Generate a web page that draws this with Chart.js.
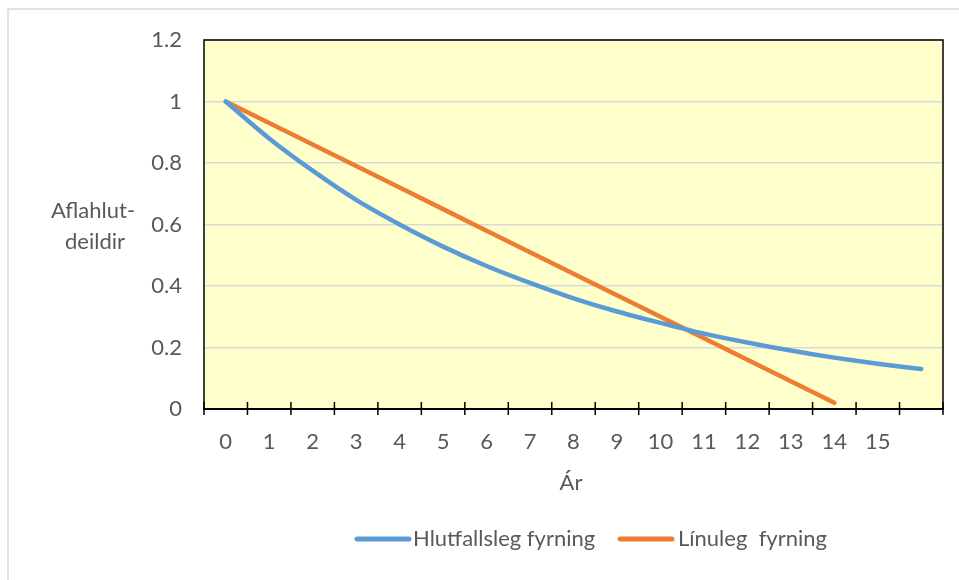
<!DOCTYPE html>
<html>
<head>
<meta charset="utf-8">
<script src="https://cdn.jsdelivr.net/npm/chart.js@4/dist/chart.umd.min.js"></script>
<style>
  html, body { margin: 0; padding: 0; background: #fff; }
  #wrap { width: 959px; height: 580px; position: relative; }
</style>
</head>
<body>
<div id="wrap"><canvas id="c" width="959" height="580"></canvas></div>
<script>
// Years (last category has no label)
const years = ['0','1','2','3','4','5','6','7','8','9','10','11','12','13','14','15',''];
// Declining-balance depreciation
const hlutfallsleg = [1, 0.88, 0.775, 0.68, 0.6, 0.528, 0.465, 0.41, 0.36, 0.317, 0.28, 0.245, 0.216, 0.19, 0.167, 0.147, 0.13];
// Straight-line depreciation
const linuleg = [1, 0.93, 0.86, 0.79, 0.72, 0.65, 0.58, 0.51, 0.44, 0.37, 0.30, 0.23, 0.16, 0.09, 0.02, null, null];
const yTicks = [0, 0.2, 0.4, 0.6, 0.8, 1, 1.2];

const seriesNames = ['Hlutfallsleg fyrning', 'Línuleg  fyrning'];
const xTitle = 'Ár';
const yTitle = ['Aflahlut-', 'deildir'];

const FONT = 'Lato, "Open Sans", sans-serif';
const FSIZE = 22;
const TEXT = '#595959';
const PLOT_BG = '#FFFFCC';

const decor = {
  id: 'decor',
  beforeDraw(chart) {
    const { ctx, chartArea: a } = chart;
    ctx.save();
    ctx.fillStyle = '#fff';
    ctx.fillRect(0, 0, chart.width, chart.height);
    // outer frame
    ctx.strokeStyle = '#d9d9d9';
    ctx.lineWidth = 1.5;
    ctx.strokeRect(8, 9, chart.width + 20, chart.height + 20);
    // plot background
    ctx.fillStyle = PLOT_BG;
    ctx.fillRect(a.left, a.top, a.right - a.left, a.bottom - a.top);
    ctx.restore();
  },
  afterDraw(chart) {
    const { ctx, chartArea: a } = chart;
    const xs = chart.scales.x;
    ctx.save();
    // plot border (left, top, right)
    ctx.strokeStyle = '#000';
    ctx.lineWidth = 1.5;
    ctx.beginPath();
    ctx.moveTo(a.left, a.bottom);
    ctx.lineTo(a.left, a.top);
    ctx.lineTo(a.right, a.top);
    ctx.lineTo(a.right, a.bottom);
    ctx.stroke();
    // category axis line with cross tick marks between categories
    ctx.lineWidth = 2;
    ctx.beginPath();
    ctx.moveTo(a.left - 1, a.bottom);
    ctx.lineTo(a.right + 1, a.bottom);
    ctx.stroke();
    const step = xs.getPixelForValue(1) - xs.getPixelForValue(0);
    ctx.lineWidth = 1.5;
    ctx.beginPath();
    for (let i = 0; i <= years.length; i++) {
      const px = xs.getPixelForValue(0) - step / 2 + i * step;
      ctx.moveTo(px, a.bottom - 7);
      ctx.lineTo(px, a.bottom + 6);
    }
    ctx.stroke();

    // axis titles
    ctx.fillStyle = TEXT;
    ctx.font = FSIZE + 'px ' + FONT;
    ctx.textAlign = 'center';
    ctx.textBaseline = 'alphabetic';
    ctx.fillText(yTitle[0], 93, 218);
    ctx.fillText(yTitle[1], 95, 249);
    ctx.fillText(xTitle, 571, 490);

    // legend
    const items = [
      { x: 357, w: 52, tx: 413 },
      { x: 620, w: 52, tx: 678 }
    ];
    chart.data.datasets.forEach((ds, i) => {
      const it = items[i];
      ctx.strokeStyle = ds.borderColor;
      ctx.lineWidth = 5;
      ctx.lineCap = 'round';
      ctx.beginPath();
      ctx.moveTo(it.x, 539);
      ctx.lineTo(it.x + it.w, 539);
      ctx.stroke();
      ctx.textAlign = 'left';
      ctx.fillText(ds.label, it.tx, 546);
    });
    ctx.restore();
  }
};

new Chart(document.getElementById('c'), {
  type: 'line',
  data: {
    labels: years,
    datasets: [
      { label: seriesNames[0], data: hlutfallsleg, borderColor: '#5B9BD5', borderWidth: 4.5, pointRadius: 0, tension: 0.3, borderCapStyle: 'round', borderJoinStyle: 'round', spanGaps: false },
      { label: seriesNames[1], data: linuleg, borderColor: '#ED7D31', borderWidth: 4.5, pointRadius: 0, tension: 0, borderCapStyle: 'round', borderJoinStyle: 'round', spanGaps: false }
    ]
  },
  options: {
    responsive: false,
    animation: false,
    devicePixelRatio: 1,
    layout: { padding: { top: 40, right: 16, left: 0, bottom: 0 } },
    plugins: { legend: { display: false }, tooltip: { enabled: false } },
    scales: {
      x: {
        type: 'category',
        offset: true,
        grid: { display: false, offset: true },
        border: { display: false },
        ticks: { color: TEXT, font: { family: FONT, size: FSIZE }, autoSkip: false, maxRotation: 0, padding: 12 },
        afterFit(s) { s.height = 171; }
      },
      y: {
        min: 0, max: 1.2,
        afterBuildTicks(s) { s.ticks = yTicks.map(v => ({ value: v })); },
        grid: { color: '#d9d9d9', lineWidth: 1.5, drawTicks: false },
        border: { display: false },
        ticks: { color: TEXT, font: { family: FONT, size: FSIZE }, padding: 22,
          callback: v => String(Math.round(v * 10) / 10) },
        afterFit(s) { s.width = 204; }
      }
    }
  },
  plugins: [decor]
});
</script>
</body>
</html>
